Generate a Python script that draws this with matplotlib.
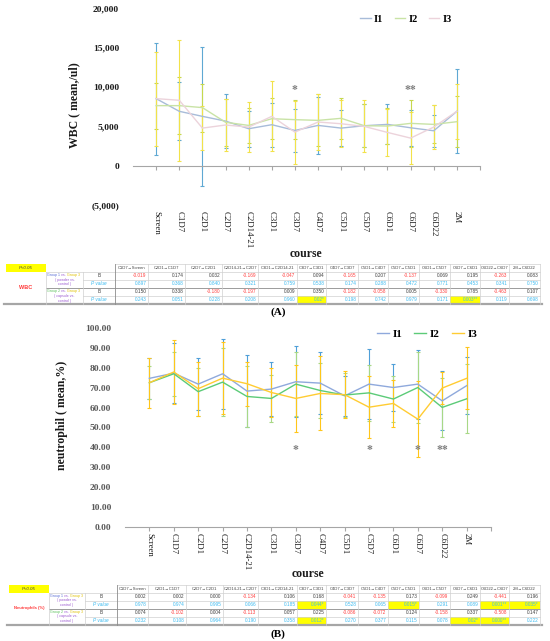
import matplotlib
matplotlib.use("Agg")
import matplotlib.pyplot as plt
from matplotlib.patches import Rectangle
from matplotlib.lines import Line2D
from matplotlib.ticker import FuncFormatter, FixedLocator

# ---------------- data ----------------
categories = ["Screen", "C1D7", "C2D1", "C2D7", "C2D14-21", "C3D1", "C3D7",
              "C4D7", "C5D1", "C5D7", "C6D1", "C6D7", "C6D22", "2M"]
series_names = ["I1", "I2", "I3"]

wbc_i1 = [8500, 6890, 6250, 5650, 4680, 5190, 4460, 5100, 4760, 5060, 5230, 4800, 4420, 6890]
wbc_i2 = [7610, 7610, 7360, 5500, 5100, 5950, 5830, 5740, 6000, 5060, 5020, 5360, 5230, 5570]
wbc_i3 = [8500, 8290, 4760, 5150, 4890, 6250, 4250, 5530, 5310, 4970, 4210, 3490, 4890, 6890]
wbc_sd1 = [7100, 3700, 8800, 3450, 2300, 2800, 2750, 3570, 2300, 2720, 2550, 2300, 2040, 5350]
wbc_sd2 = [2930, 3650, 3050, 3000, 2200, 2600, 2500, 3300, 2600, 2700, 2300, 3000, 2400, 3200]
wbc_sd3 = [5960, 7650, 2800, 3270, 3200, 4450, 4000, 3500, 3000, 3300, 3000, 3300, 2800, 3500]
wbc_sig_idx = [6, 11]
wbc_sig_mark = ["*", "**"]
wbc_sig_y = 9540

neu_i1 = [74.7, 77.3, 71.8, 77.0, 68.3, 69.3, 73.0, 72.3, 65.9, 71.8, 70.1, 71.8, 63.4, 71.0]
neu_i2 = [72.5, 77.0, 68.0, 72.8, 65.6, 64.6, 71.8, 68.6, 66.3, 67.4, 64.3, 70.1, 60.1, 64.4]
neu_i3 = [72.5, 77.9, 69.5, 74.8, 72.0, 67.6, 64.6, 67.1, 66.5, 60.2, 62.1, 54.2, 69.8, 74.7]
neu_sd1 = [10.2, 15.2, 12.9, 17.6, 17.9, 13.6, 17.8, 15.5, 10.0, 17.6, 12.0, 17.3, 14.8, 14.4]
neu_sd2 = [8.4, 11.0, 12.0, 17.0, 15.4, 11.6, 16.2, 14.0, 11.0, 14.0, 11.4, 17.9, 15.0, 17.3]
neu_sd3 = [12.6, 16.0, 13.5, 18.0, 11.0, 12.2, 17.0, 18.6, 11.7, 15.6, 12.0, 19.1, 8.0, 15.6]
neu_sig_idx = [6, 9, 11, 12]
neu_sig_mark = ["*", "*", "*", "**"]
neu_sig_y = 38.8

table_headers = ["C1D7\u2192Screen", "C2D1\u2192C1D7", "C2D7\u2192C2D1", "C2D14-21\u2192C2D7",
                 "C3D1\u2192C2D14-21", "C3D7\u2192C3D1", "C4D7\u2192C3D7", "C5D1\u2192C4D7",
                 "C5D7\u2192C5D1", "C6D1\u2192C5D7", "C6D7\u2192C6D1", "C6D22\u2192C6D7", "2M\u2192C6D22"]

wbc_b1 = ["-0.019", "0.174", "0.032", "-0.169", "-0.047", "0.094", "-0.165", "0.207", "-0.137", "0.069", "0.195", "-0.263", "0.083"]
wbc_p1 = ["0.897", "0.368", "0.840", "0.321", "0.759", "0.538", "0.174", "0.288", "0.472", "0.771", "0.453", "0.341", "0.750"]
wbc_b2 = ["0.150", "0.338", "-0.180", "-0.197", "0.009", "0.350", "-0.182", "-0.058", "0.005", "-0.330", "0.785", "-0.463", "0.107"]
wbc_p2 = ["0.243", "0.051", "0.228", "0.208", "0.960", "0.02*", "0.198", "0.742", "0.979", "0.171", "0.003**", "0.119", "0.698"]

neu_b1 = ["0.002", "0.002", "0.000", "-0.134", "0.106", "0.168", "-0.041", "-0.135", "0.173", "-0.099", "0.249", "-0.441", "0.196"]
neu_p1 = ["0.978", "0.974", "0.995", "0.066", "0.185", "0.044*", "0.528", "0.065", "0.015*", "0.291", "0.089", "0.001**", "0.035*"]
neu_b2 = ["0.074", "-0.102", "0.004", "-0.113", "0.057", "0.225", "-0.086", "-0.072", "0.124", "-0.158", "0.337", "-0.508", "0.147"]
neu_p2 = ["0.232", "0.108", "0.964", "0.190", "0.358", "0.012*", "0.270", "0.377", "0.115", "0.078", "0.02*", "0.000**", "0.222"]

# ---------------- figure ----------------
W, H = 550, 641
fig = plt.figure(figsize=(5.5, 6.41), dpi=100)
SERIF = "Liberation Serif"
SANS = "Liberation Sans"


def fx(px):
    return px / W


def fy(py):
    return 1 - py / H


def axes_px(left, top, right, bottom):
    return fig.add_axes([fx(left), fy(bottom), (right - left) / W, (bottom - top) / H])


# overlay axes in pixel coordinates for the tables
axT = fig.add_axes([0, 0, 1, 1])
axT.set_xlim(0, W)
axT.set_ylim(H, 0)
axT.axis("off")


def draw_chart(ax, means, sds, line_colors, err_colors, ylim, yticks, fmt, tick_color,
               axis_at_zero, sig_idx, sig_mark, sig_y):
    x = list(range(len(categories)))
    ax.set_xlim(-1, len(categories))
    ax.set_ylim(*ylim)
    for m, s, ec in zip(means, sds, err_colors):
        ax.errorbar(x, m, yerr=s, fmt="none", ecolor=ec, elinewidth=0.8,
                    capsize=1.5, capthick=0.8, zorder=2)
    handles = []
    for m, lc in zip(means, line_colors):
        ln, = ax.plot(x, m, color=lc, lw=1.0, zorder=3)
        handles.append(ln)
    for sp in ["left", "top", "right"]:
        ax.spines[sp].set_visible(False)
    ax.spines["bottom"].set_color("#a6a6a6")
    ax.spines["bottom"].set_linewidth(0.8)
    if axis_at_zero:
        ax.spines["bottom"].set_position(("data", 0))
    ax.xaxis.set_major_locator(FixedLocator(list(range(len(categories) + 1))))
    ax.tick_params(axis="x", direction="out", length=3, color="#a6a6a6",
                   labelbottom=False)
    ax.set_yticks(yticks)
    ax.yaxis.set_major_formatter(FuncFormatter(fmt))
    ax.tick_params(axis="y", length=0, pad=10, labelcolor=tick_color)
    for lab in ax.get_yticklabels():
        lab.set_fontfamily(SERIF)
        lab.set_fontweight("bold")
        lab.set_fontsize(6.8)
    for i, c in enumerate(categories):
        ax.text(i, -0.03, c, transform=ax.get_xaxis_transform(), rotation=-90,
                ha="center", va="top", fontsize=6.3, family=SERIF, color="#1a1a1a")
    for i, mk in zip(sig_idx, sig_mark):
        ax.text(i, sig_y, mk, ha="center", va="center", fontsize=8.5,
                fontweight="bold", color="#7f7f7f", family=SERIF)
    return handles


def wbc_fmt(v, pos):
    if v < 0:
        return "({:,.0f})".format(-v)
    return "{:,.0f}".format(v)


def neu_fmt(v, pos):
    return "{:.2f}".format(v)


# ---------------- panel A ----------------
axA = axes_px(133, 8, 480, 205)
hA = draw_chart(axA, [wbc_i1, wbc_i2, wbc_i3], [wbc_sd1, wbc_sd2, wbc_sd3],
                ["#a8bcd9", "#c9e3a6", "#ecd3db"], ["#5fa8d3", "#c6d84e", "#f2e24a"],
                (-5000, 20000), [-5000, 0, 5000, 10000, 15000, 20000], wbc_fmt, "#1a1a1a",
                True, wbc_sig_idx, wbc_sig_mark, wbc_sig_y)
fig.legend(hA, series_names, loc="center", bbox_to_anchor=(fx(406), fy(19)), ncol=3,
           frameon=False, prop=dict(family=SERIF, weight="bold", size=7.5),
           handlelength=1.0, handletextpad=0.3, columnspacing=1.1)
fig.text(fx(74), fy(105), "WBC ( mean,/ul)", rotation=90, ha="center", va="center",
         family=SERIF, fontweight="bold", fontsize=8.5, color="#1a1a1a")
fig.text(fx(306), fy(254), "course", ha="center", va="center",
         family=SERIF, fontweight="bold", fontsize=8.5, color="#1a1a1a")

# ---------------- panel B ----------------
axB = axes_px(125, 328, 491, 527)
hB = draw_chart(axB, [neu_i1, neu_i2, neu_i3], [neu_sd1, neu_sd2, neu_sd3],
                ["#8fa9dc", "#5ccb78", "#ffcc33"], ["#4f9fd8", "#a8d886", "#ffc61a"],
                (0, 100), list(range(0, 101, 10)), neu_fmt, "#595959",
                False, neu_sig_idx, neu_sig_mark, neu_sig_y)
fig.legend(hB, series_names, loc="center", bbox_to_anchor=(fx(427), fy(334)), ncol=3,
           frameon=False, prop=dict(family=SERIF, weight="bold", size=8),
           handlelength=1.1, handletextpad=0.3, columnspacing=1.1)
fig.text(fx(62), fy(415), "neutrophil ( mean,%)", rotation=90, ha="center", va="center",
         family=SERIF, fontweight="bold", fontsize=8.5, color="#1a1a1a")
fig.text(fx(308), fy(574), "course", ha="center", va="center",
         family=SERIF, fontweight="bold", fontsize=8.5, color="#1a1a1a")

fig.text(fx(278), fy(312), "(A)", ha="center", va="center", family=SERIF,
         fontweight="bold", fontsize=8)
fig.text(fx(278), fy(634), "(B)", ha="center", va="center", family=SERIF,
         fontweight="bold", fontsize=8)


# ---------------- tables ----------------
def rainbow(x, y, pieces, fs):
    t = axT.text(x, y, pieces[0][0], color=pieces[0][1], fontsize=fs, family=SANS,
                 ha="left", va="center")
    for s, c in pieces[1:]:
        t = axT.annotate(s, xycoords=t, xy=(1, 0), va="bottom", ha="left",
                         color=c, fontsize=fs, family=SANS)


def draw_table(c0, c1, c2, bounds, top, rh, label, label_fs, rows):
    fs = 3.4
    light = "#d0d0d0"
    dark = "#8c8c8c"
    right = bounds[-1]
    yb = [top + rh * k for k in range(6)]
    # header yellow cell
    axT.add_patch(Rectangle((c0, yb[0]), c1 - c0, rh, facecolor="#ffff00",
                            edgecolor="none", zorder=1))
    axT.text((c0 + c1) / 2, yb[0] + rh / 2, "P<0.05", fontsize=3.2, style="italic",
             family=SANS, ha="center", va="center", color="#404040", zorder=3)
    # header texts
    for k, hdr in enumerate(table_headers):
        axT.text((bounds[k] + bounds[k + 1]) / 2, yb[0] + rh / 2, hdr, fontsize=3.0,
                 family=SANS, ha="center", va="center", color="#404040", zorder=3)
    # body values
    for r, vals in enumerate(rows):
        is_p = (r % 2 == 1)
        ymid = yb[r + 1] + rh / 2
        for k, v in enumerate(vals):
            if is_p:
                col = "#3dbbf0"
                if "*" in v:
                    axT.add_patch(Rectangle((bounds[k], yb[r + 1]), bounds[k + 1] - bounds[k], rh,
                                            facecolor="#ffff00", edgecolor="none", zorder=1))
            else:
                col = "#ff4040" if v.startswith("-") else "#404040"
            axT.text(bounds[k + 1] - 1.5, ymid, v, fontsize=fs, family=SANS,
                     ha="right", va="center", color=col, zorder=3)
        axT.text((c2 + bounds[0]) / 2, ymid, "P value" if is_p else "B", fontsize=fs,
                 family=SANS, ha="center", va="center",
                 color="#3dbbf0" if is_p else "#404040",
                 style="italic" if is_p else "normal", zorder=3)
    # group labels
    for g, (gname, gcol, kind) in enumerate([("Group 1", "#5b6fd6", "( powder vs."),
                                             ("Group 2", "#5cc05c", "( capsule vs.")]):
        yc = yb[1 + 2 * g] + rh
        rainbow(c1 + 1.0, yc - 4.6, [(gname, gcol), (" vs. ", "#9b59d0"),
                                      ("Group 3", "#e0c000")], 2.6)
        axT.text((c1 + c2) / 2, yc, kind, fontsize=2.6, family=SANS, ha="center",
                 va="center", color="#9b59d0")
        axT.text((c1 + c2) / 2, yc + 4.6, "control )", fontsize=2.6, family=SANS,
                 ha="center", va="center", color="#9b59d0")
    # left label
    axT.text((c0 + c1) / 2, (yb[1] + yb[5]) / 2, label, fontsize=label_fs, family=SANS,
             ha="center", va="center", color="#ff3b3b", fontweight="bold")
    # grid lines
    axT.plot([bounds[0], right], [yb[0], yb[0]], color=light, lw=0.5)
    for k in range(1, 5):
        xs = c1 if k in (1, 3) else c2
        col = dark if k == 3 else light
        axT.plot([xs, right], [yb[k], yb[k]], color=col, lw=0.6 if k == 3 else 0.5)
    axT.plot([c0 - 2, right + 2], [yb[5], yb[5]], color="#a6a6a6", lw=1.6)
    for xb in bounds[1:]:
        axT.plot([xb, xb], [yb[0], yb[5]], color=light, lw=0.5)
    axT.plot([bounds[0], bounds[0]], [yb[0], yb[5]], color=dark, lw=0.6)
    axT.plot([c1, c1], [yb[1], yb[5]], color=light, lw=0.5)
    axT.plot([c2, c2], [yb[1], yb[5]], color=light, lw=0.5)


draw_table(6, 46, 83, [115, 148, 185, 222, 258, 297, 326, 358, 388, 419, 450, 480, 509, 540],
           263.5, 8.1, "WBC", 4.0, [wbc_b1, wbc_p1, wbc_b2, wbc_p2])
draw_table(9, 49, 85, [117, 148, 186, 223, 258, 297, 326, 358, 388, 419, 450, 480, 509, 540],
           584.5, 8.0, "Neutrophils (%)", 3.0, [neu_b1, neu_p1, neu_b2, neu_p2])

fig.savefig("out.png", dpi=100)
